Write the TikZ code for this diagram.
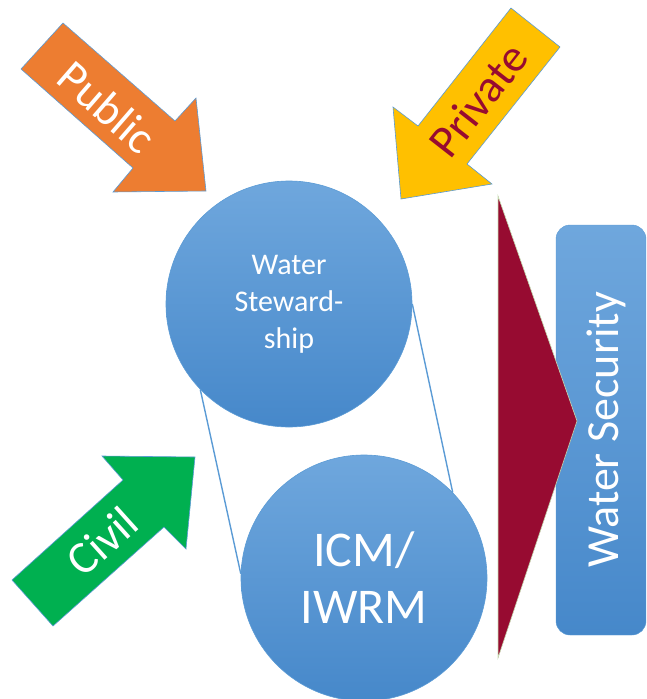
\documentclass[tikz,border=0pt]{standalone}
\usepackage{fontspec}
\setmainfont{Carlito}
\usepackage{xcolor}
\definecolor{pubOrange}{HTML}{ED7D31}
\definecolor{privYellow}{HTML}{FFC000}
\definecolor{civGreen}{HTML}{00B050}
\definecolor{wine}{HTML}{970B31}
\definecolor{lineBlue}{HTML}{5B9BD5}
\definecolor{topBlue}{HTML}{6FA7DD}
\definecolor{botBlue}{HTML}{4688CA}
\definecolor{paleGreen}{HTML}{C5E0B4}

\begin{document}
\begin{tikzpicture}[x=1pt,y=-1pt]
\tikzset{circ/.style = {shape=circle,draw=lineBlue,line width=0.6pt,minimum size=246pt,inner sep=0pt,top color=topBlue,bottom color=botBlue,text=white,align=center}}
\tikzset{arr/.style = {draw=lineBlue,line width=0.6pt}}
\tikzset{lab/.style = {font=\fontsize{46}{46}\selectfont,inner sep=0pt}}
\tikzset{link/.style = {draw=lineBlue,line width=1.4pt}}
\useasboundingbox (0,0) rectangle (646,699);
% circles
\node[circ, font=\fontsize{30}{37}\selectfont] (ws) at (289,304) {Water\\Steward-\\ship};
\node[circ, font=\fontsize{50}{57}\selectfont] (icm) at (364,578) {ICM/\\IWRM};
% links
\draw[link] (ws.east) -- (icm.44);
\draw[link] (ws.224) -- (icm.178);
% arrows
\filldraw[arr, fill=pubOrange] (63,23) -- (21,69) -- (133,168) -- (113,192) -- (206,191) -- (196,98) -- (175,121) -- cycle;
\node[lab, text=white, rotate=-41] (pub) at (107,107) {Public};
\filldraw[arr, fill=privYellow] (511,8) -- (560,47) -- (467,164) -- (492,184) -- (401,199) -- (393,107) -- (418,126) -- cycle;
\node[lab, text=wine, rotate=52] (priv) at (478,100) {Private};
\filldraw[arr, fill=civGreen] (53,626) -- (12,580) -- (123,480) -- (102,456) -- (195,457) -- (186,549) -- (164,527) -- cycle;
\node[lab, text=white, rotate=42] (civ) at (102,541) {Civil};
% security
\node[draw=lineBlue, rounded corners=14pt, minimum width=90pt, minimum height=410pt, top color=topBlue, bottom color=botBlue] (sec) at (601,430) {};
\node[lab, text=white, rotate=90, anchor=base] (sectxt) at (618,430) {Water Security};
\filldraw[draw=paleGreen, fill=wine, line width=0.6pt] (498,196) -- (577,421) -- (498,658) -- cycle;
\end{tikzpicture}
\end{document}
